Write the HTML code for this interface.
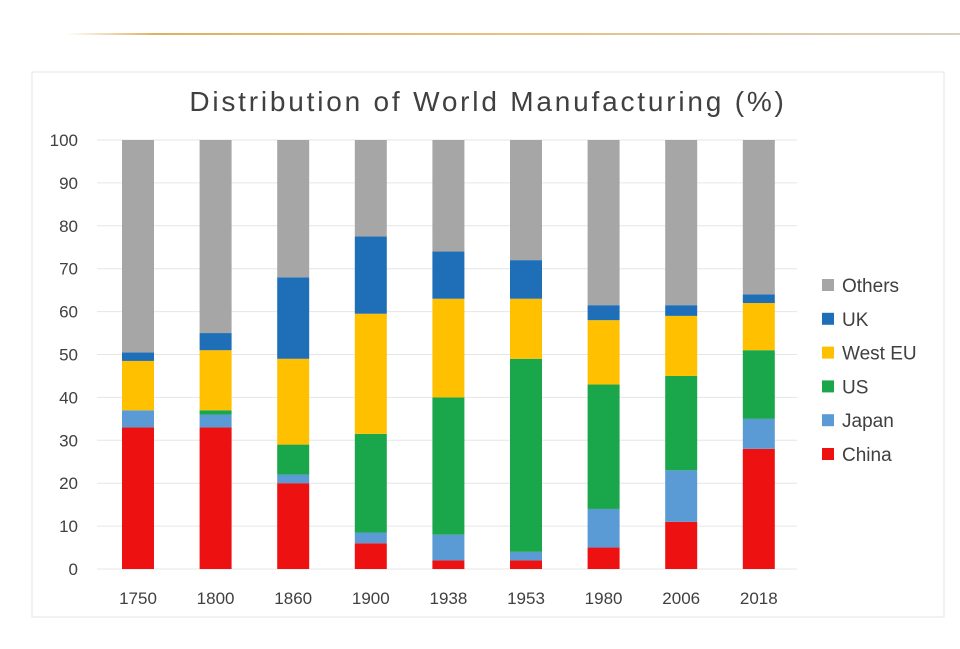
<!DOCTYPE html>
<html><head><meta charset="utf-8"><style>
body{margin:0;background:#fff;width:960px;height:644px;overflow:hidden;font-family:"Liberation Sans",sans-serif}
</style></head><body>
<svg width="960" height="644" xmlns="http://www.w3.org/2000/svg">
<defs><linearGradient id="gl" x1="0" x2="1"><stop offset="0" stop-color="#fff"/><stop offset="0.1" stop-color="#e0b060"/><stop offset="0.5" stop-color="#e8c080"/><stop offset="1" stop-color="#d8d0c0"/></linearGradient></defs>
<rect x="65" y="33" width="895" height="2" fill="url(#gl)"/>
<rect x="32" y="72" width="912" height="545" fill="#fff" stroke="#e4e4e4"/>
<text x="488" y="111" font-size="28" fill="#404040" text-anchor="middle" letter-spacing="2.8">Distribution of World Manufacturing (%)</text>
<g id="grid"></g><g id="bars"></g><g id="legend"></g>
</svg>
<script>
const years=["1750","1800","1860","1900","1938","1953","1980","2006","2018"];
const china=[33,33,20,6,2,2,5,11,28];
const japan=[4,3,2,2.5,6,2,9,12,7];
const us=[0,1,7,23,32,45,29,22,16];
const westEU=[11.5,14,20,28,23,14,15,14,11];
const uk=[2,4,19,18,11,9,3.5,2.5,2];
const yTicks=[0,10,20,30,40,50,60,70,80,90,100];
const series=[["China",china,"#ee1111"],["Japan",japan,"#5b9bd5"],["US",us,"#1aa64a"],["West EU",westEU,"#ffc000"],["UK",uk,"#1f6fb8"]];
const NS="http://www.w3.org/2000/svg";
const y=v=>569-v*4.29, x=i=>138+i*77.6;
function mk(t,a,p){const e=document.createElementNS(NS,t);for(const k in a)e.setAttribute(k,a[k]);p.appendChild(e);return e;}
const g=document.getElementById('grid'),b=document.getElementById('bars'),l=document.getElementById('legend');
yTicks.forEach(t=>{
 const ln=mk('line',{x1:97,x2:797,y1:y(t),y2:y(t),stroke:'#e6e6e6'},g);
 
 
 const tx=mk('text',{x:78,y:y(t)+6,'font-size':17,fill:'#404040','text-anchor':'end'},g);tx.textContent=t;
 
 
});
years.forEach((yr,i)=>{
 let c=0;
 series.forEach(([n,arr,col])=>{
  const v=arr[i];
  const r=mk('rect',{x:x(i)-16,y:y(c+v),width:32,height:v*4.29,fill:col},b);
  
  
  c+=v;
 });
 const o=mk('rect',{x:x(i)-16,y:y(100),width:32,height:(100-c)*4.29,fill:'#a6a6a6'},b);
 
 
 const tx=mk('text',{x:x(i),y:604,'font-size':17,fill:'#404040','text-anchor':'middle'},b);tx.textContent=yr;
 
 
});
const leg=[["Others","#a6a6a6"],["UK","#1f6fb8"],["West EU","#ffc000"],["US","#1aa64a"],["Japan","#5b9bd5"],["China","#ee1111"]];
leg.forEach(([n,col],k)=>{
 const yy=285+k*33.8;
 const s=mk('rect',{x:822,y:yy-6,width:12,height:12,fill:col},l);
 
 
 const t=mk('text',{x:842,y:yy+7,'font-size':19,fill:'#404040'},l);t.textContent=n;
 
 
});
</script>
</body></html>
